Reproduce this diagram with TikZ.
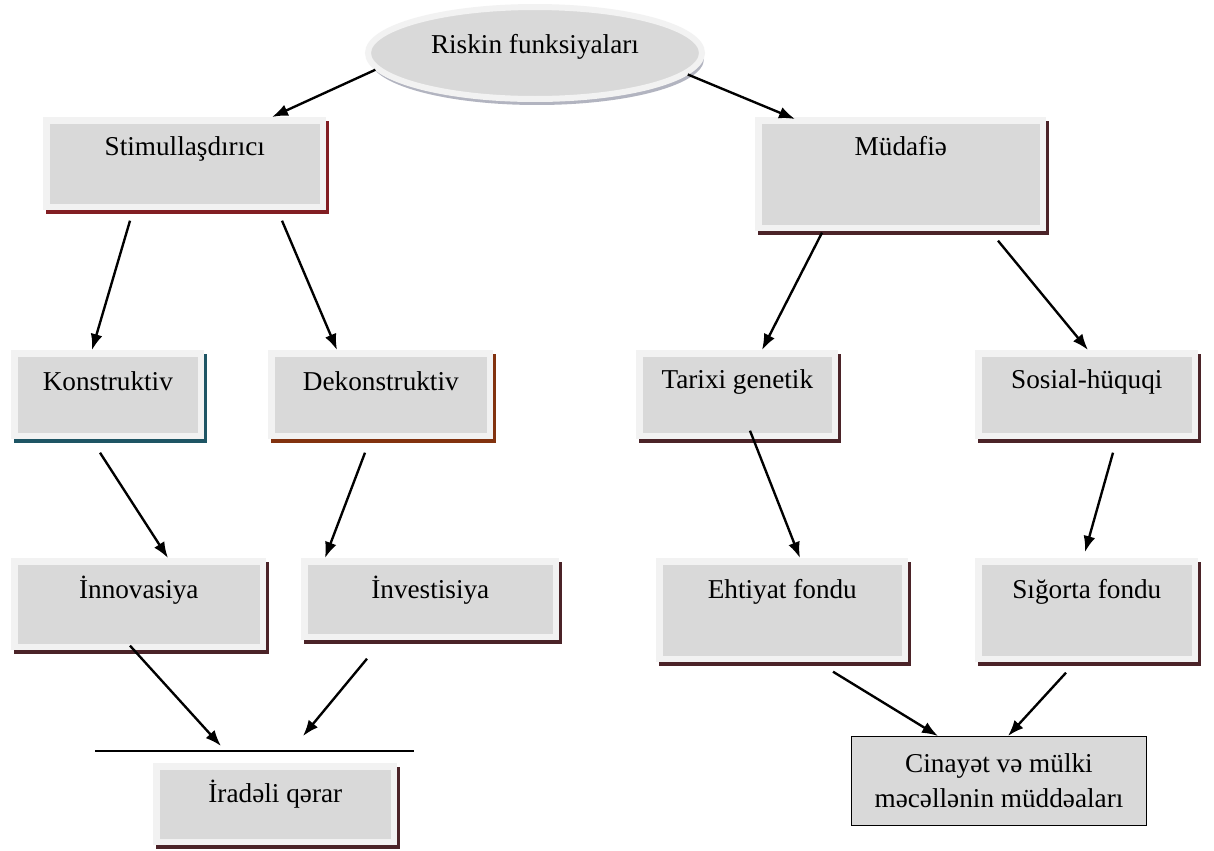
\documentclass[tikz,border=0pt]{standalone}
\usepackage{fontspec}
\setmainfont{Liberation Serif}
\usetikzlibrary{calc,shapes.geometric,shadows,arrows.meta}
\definecolor{boxgray}{HTML}{D9D9D9}
\definecolor{boxrim}{HTML}{F2F2F2}
\definecolor{redshadow}{RGB}{130,30,35}
\definecolor{tealshadow}{RGB}{30,85,100}
\definecolor{rustshadow}{RGB}{130,50,15}
\definecolor{darkshadow}{RGB}{75,35,40}
\definecolor{ellshadow}{RGB}{178,180,192}
\tikzset{
	funcbox/.style={rectangle, anchor=north west, inner sep=0pt, fill=boxrim,
		font=\fontsize{15.5}{19.8}\selectfont,
		path picture={\fill[boxgray] ([shift={(.13cm,.13cm)}]path picture bounding box.south west) rectangle ([shift={(-.13cm,-.13cm)}]path picture bounding box.north east);},
		drop shadow={shadow xshift=.06cm, shadow yshift=-.08cm, fill=#1, opacity=1}},
	funcbox/.default=darkshadow,
	link/.style={line width=1.35pt, -{Latex[length=.32cm,width=.24cm]}}
}

\begin{document}
\begin{tikzpicture}[x=0.02cm, y=-0.02cm]
			%%%%% START %%%%%
			\path[use as bounding box, fill=white] (0, 0) rectangle (1214, 850);
			
			\node[ellipse, draw=boxrim, line width=.12cm, fill=boxgray, minimum width=6.68cm, minimum height=1.84cm, inner sep=0pt, text height=.3cm, text depth=.3cm, font=\fontsize{15.5}{19.8}\selectfont, drop shadow={shadow xshift=.04cm, shadow yshift=-.12cm, fill=ellshadow, opacity=1}] (ell) at (535, 53) {Riskin funksiyaları};
			
			\node[funcbox=redshadow, minimum width=5.66cm, text height=.76cm, text depth=1.1cm] (stim) at (43, 117) {Stimullaşdırıcı};
			\node[funcbox, minimum width=5.82cm, text height=.76cm, text depth=1.52cm] (mud) at (755, 117) {Müdafiə};
			
			\node[funcbox=tealshadow, minimum width=3.86cm, text height=.8cm, text depth=.98cm] (kon) at (11, 350) {Konstruktiv};
			\node[funcbox=rustshadow, minimum width=4.5cm, text height=.8cm, text depth=.98cm] (dek) at (268, 350) {Dekonstruktiv};
			\node[funcbox, minimum width=4.04cm, text height=.76cm, text depth=1.02cm] (tar) at (636, 350) {Tarixi genetik};
			\node[funcbox, minimum width=4.46cm, text height=.76cm, text depth=1.02cm] (sos) at (975, 350) {Sosial-hüquqi};
			
			\node[funcbox, minimum width=5.1cm, text height=.8cm, text depth=1.04cm] (inn) at (11, 558) {İnnovasiya};
			\node[funcbox, minimum width=5.16cm, text height=.8cm, text depth=.84cm] (inv) at (301, 558) {İnvestisiya};
			\node[funcbox, minimum width=5.04cm, text height=.8cm, text depth=1.28cm] (eht) at (656, 558) {Ehtiyat fondu};
			\node[funcbox, minimum width=4.46cm, text height=.8cm, text depth=1.28cm] (sig) at (975, 558) {Sığorta fondu};
			
			\node[funcbox, minimum width=4.88cm, text height=.78cm, text depth=.86cm] (ira) at (153, 763) {İradəli qərar};
			\node[draw=black, line width=.6pt, fill=boxgray, anchor=north west, inner sep=0pt, minimum width=5.9cm, minimum height=1.78cm, align=center, font=\fontsize{15.5}{19.8}\selectfont] (cin) at (851, 736) {Cinayət və mülki\\məcəllənin müddəaları};
			
			\coordinate (barL) at (95, 751);
			\coordinate (barR) at (414, 751);
			\coordinate (innEnd) at (221, 746);
			\coordinate (invEnd) at (303, 736);
			\draw[line width=.8pt] (barL) -- (barR);
			
			\draw[link] (ell.186) -- ($(stim.north west)+(229, 0)$);
			\draw[link] (ell.-8) -- ($(mud.north west)+(40, 2)$);
			
			\draw[link] ($(stim.south west)+(87, 10)$) -- ($(kon.north west)+(81, 0)$);
			\draw[link] ($(stim.south west)+(239, 10)$) -- ($(dek.north west)+(69, 0)$);
			\draw[link] ($(mud.south west)+(67, 1)$) -- ($(tar.north west)+(126, 0)$);
			\draw[link] ($(mud.south west)+(243, 9)$) -- ($(sos.north west)+(113, 0)$);
			
			\draw[link] ($(kon.south west)+(89, 13)$) -- ($(inn.north west)+(157, 0)$);
			\draw[link] ($(dek.south west)+(97, 13)$) -- ($(inv.north west)+(24, 0)$);
			\draw[link] ($(tar.south west)+(114, -9)$) -- ($(eht.north west)+(144, 0)$);
			\draw[link] ($(sos.south west)+(138, 13)$) -- ($(sig.north west)+(110, -6)$);
			
			\draw[link] ($(inn.south west)+(119, -5)$) -- (innEnd);
			\draw[link] ($(inv.south west)+(66, 18)$) -- (invEnd);
			\draw[link] ($(eht.south west)+(177, 9)$) -- ($(cin.north west)+(87, 0)$);
			\draw[link] ($(sig.south west)+(91, 10)$) -- ($(cin.north west)+(157, 0)$);
			
			%%%%% END %%%%%
\end{tikzpicture}
\end{document}
